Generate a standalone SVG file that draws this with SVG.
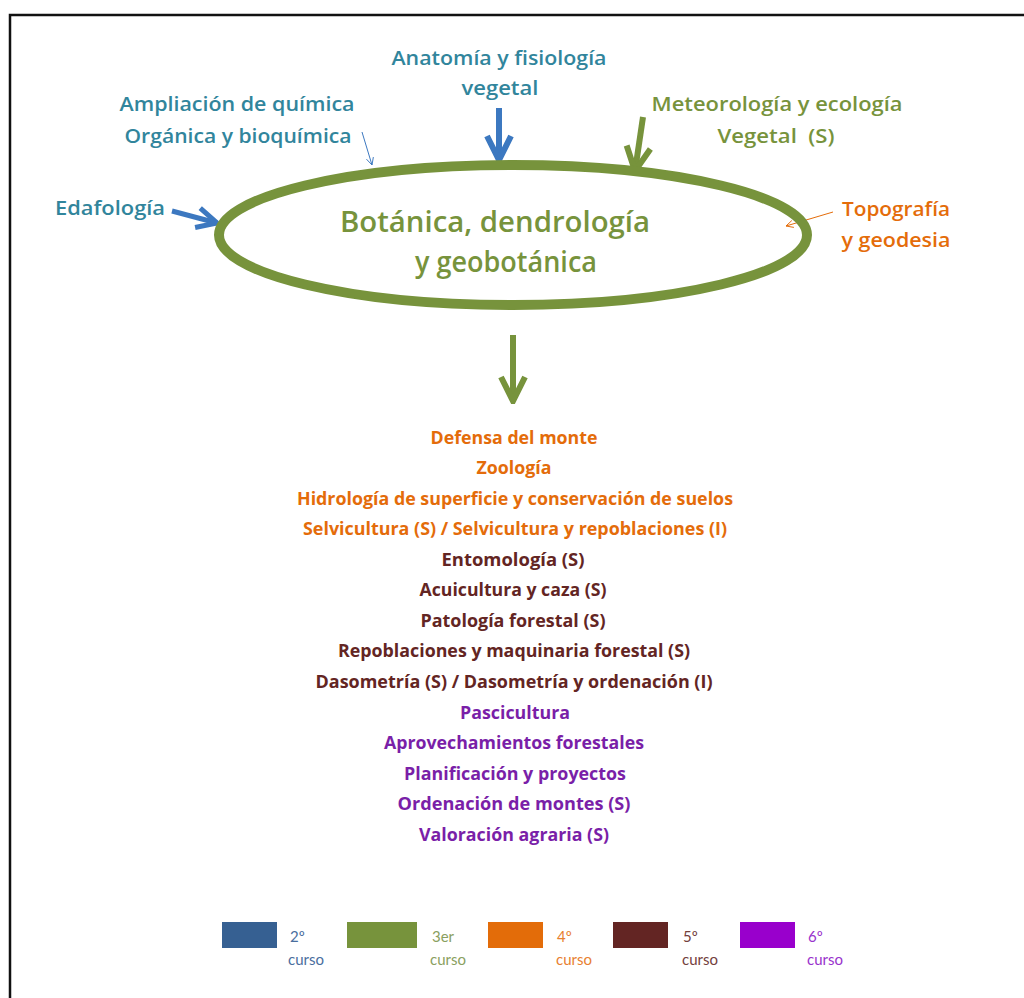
<svg xmlns="http://www.w3.org/2000/svg" width="1024" height="998" viewBox="0 0 1024 998">
<style>
text{font-family:"Open Sans","Liberation Sans",sans-serif;text-anchor:middle}
.t{font-size:20px;font-weight:600;fill:#31859C}
.g{font-size:20px;font-weight:600;fill:#77933C}
.o{font-size:20px;font-weight:600;fill:#E46C0A}
.main{font-size:28px;font-weight:600;fill:#77933C}
.li{font-size:17px;font-weight:bold}
.c4{fill:#E46C0A}.c5{fill:#632523}.c6{fill:#7A1FA8}
.lg{font-family:"Lato","Liberation Sans",sans-serif;font-size:15px;text-anchor:start}
</style>
<defs>
<marker id="hb" viewBox="0 0 10 10" refX="9" refY="5" markerWidth="5" markerHeight="5" orient="auto" markerUnits="strokeWidth"><path d="M1,1 L9,5 L1,9" fill="none" stroke="#3C78C0" stroke-width="2"/></marker>
<marker id="hg" viewBox="0 0 10 10" refX="9" refY="5" markerWidth="5" markerHeight="5" orient="auto" markerUnits="strokeWidth"><path d="M1,1 L9,5 L1,9" fill="none" stroke="#77933C" stroke-width="2"/></marker>
<marker id="tb" viewBox="0 0 10 10" refX="9" refY="5" markerWidth="9" markerHeight="9" orient="auto" markerUnits="strokeWidth"><path d="M1,1 L9,5 L1,9" fill="none" stroke="#3C78C0" stroke-width="1"/></marker>
<marker id="to" viewBox="0 0 10 10" refX="9" refY="5" markerWidth="9" markerHeight="9" orient="auto" markerUnits="strokeWidth"><path d="M1,1 L9,5 L1,9" fill="none" stroke="#E46C0A" stroke-width="1"/></marker>
</defs>
<rect width="1024" height="998" fill="#fff"/>
<path d="M10,998 V15 H1024" fill="none" stroke="#111" stroke-width="2.5"/>

<g id="connectors" fill="none">
<line x1="172" y1="211" x2="217" y2="223" stroke="#3C78C0" stroke-width="5" marker-end="url(#hb)"/>
<line x1="362" y1="132" x2="372" y2="165" stroke="#3C78C0" stroke-width="1" marker-end="url(#tb)"/>
<line x1="499" y1="108" x2="499" y2="160" stroke="#3C78C0" stroke-width="6" marker-end="url(#hb)"/>
<line x1="643" y1="117" x2="635" y2="171" stroke="#77933C" stroke-width="6" marker-end="url(#hg)"/>
<line x1="833" y1="212" x2="786" y2="226" stroke="#E46C0A" stroke-width="1" marker-end="url(#to)"/>
<line x1="513" y1="335" x2="513" y2="401" stroke="#77933C" stroke-width="6" marker-end="url(#hg)"/>
</g>

<g id="center">
<ellipse cx="513" cy="235" rx="294" ry="70" fill="none" stroke="#77933C" stroke-width="10"/>
<text class="main" x="495" y="232" textLength="310" lengthAdjust="spacingAndGlyphs">Botánica, dendrología</text>
<text class="main" x="506" y="272" textLength="182" lengthAdjust="spacingAndGlyphs">y geobotánica</text>
</g>

<g id="anatomia"><text class="t" x="499" y="65" textLength="215" lengthAdjust="spacingAndGlyphs">Anatomía y fisiología</text><text class="t" x="500" y="95" textLength="77" lengthAdjust="spacingAndGlyphs">vegetal</text></g>
<g id="ampliacion"><text class="t" x="237" y="111" textLength="235" lengthAdjust="spacingAndGlyphs">Ampliación de química</text><text class="t" x="238" y="143" textLength="227" lengthAdjust="spacingAndGlyphs">Orgánica y bioquímica</text></g>
<g id="meteorologia"><text class="g" x="777" y="111" textLength="251" lengthAdjust="spacingAndGlyphs">Meteorología y ecología</text><text class="g" x="776" y="143" textLength="117" lengthAdjust="spacingAndGlyphs" xml:space="preserve">Vegetal  (S)</text></g>
<g id="edafologia"><text class="t" x="110" y="215" textLength="110" lengthAdjust="spacingAndGlyphs">Edafología</text></g>
<g id="topografia"><text class="o" x="896" y="216" textLength="108" lengthAdjust="spacingAndGlyphs">Topografía</text><text class="o" x="896" y="247" textLength="109" lengthAdjust="spacingAndGlyphs">y geodesia</text></g>

<g id="list">
<text class="li c4" x="514" y="444" textLength="167" lengthAdjust="spacingAndGlyphs">Defensa del monte</text>
<text class="li c4" x="514" y="474" textLength="75" lengthAdjust="spacingAndGlyphs">Zoología</text>
<text class="li c4" x="515" y="505" textLength="436" lengthAdjust="spacingAndGlyphs">Hidrología de superficie y conservación de suelos</text>
<text class="li c4" x="515" y="535" textLength="424" lengthAdjust="spacingAndGlyphs">Selvicultura (S) / Selvicultura y repoblaciones (I)</text>
<text class="li c5" x="513" y="566" textLength="143" lengthAdjust="spacingAndGlyphs">Entomología (S)</text>
<text class="li c5" x="513" y="596" textLength="187" lengthAdjust="spacingAndGlyphs">Acuicultura y caza (S)</text>
<text class="li c5" x="513" y="627" textLength="185" lengthAdjust="spacingAndGlyphs">Patología forestal (S)</text>
<text class="li c5" x="514" y="657" textLength="352" lengthAdjust="spacingAndGlyphs">Repoblaciones y maquinaria forestal (S)</text>
<text class="li c5" x="514" y="688" textLength="397" lengthAdjust="spacingAndGlyphs">Dasometría (S) / Dasometría y ordenación (I)</text>
<text class="li c6" x="515" y="719" textLength="110" lengthAdjust="spacingAndGlyphs">Pascicultura</text>
<text class="li c6" x="514" y="749" textLength="260" lengthAdjust="spacingAndGlyphs">Aprovechamientos forestales</text>
<text class="li c6" x="515" y="780" textLength="222" lengthAdjust="spacingAndGlyphs">Planificación y proyectos</text>
<text class="li c6" x="514" y="810" textLength="233" lengthAdjust="spacingAndGlyphs">Ordenación de montes (S)</text>
<text class="li c6" x="514" y="841" textLength="190" lengthAdjust="spacingAndGlyphs">Valoración agraria (S)</text>
</g>

<g id="legend">
<rect x="222" y="922" width="55" height="26" fill="#366092"/>
<text class="lg" x="290" y="942" fill="#4A6E9E">2º</text><text class="lg" x="288" y="965" fill="#4A6E9E">curso</text>
<rect x="347" y="922" width="70" height="26" fill="#77933C"/>
<text class="lg" x="432" y="942" fill="#8AA060">3er</text><text class="lg" x="430" y="965" fill="#8AA060">curso</text>
<rect x="488" y="922" width="55" height="26" fill="#E36C09"/>
<text class="lg" x="557" y="942" fill="#E88030">4º</text><text class="lg" x="556" y="965" fill="#E88030">curso</text>
<rect x="613" y="922" width="55" height="26" fill="#632523"/>
<text class="lg" x="683" y="942" fill="#73403C">5º</text><text class="lg" x="682" y="965" fill="#73403C">curso</text>
<rect x="740" y="922" width="55" height="26" fill="#9900CC"/>
<text class="lg" x="808" y="942" fill="#9933CC">6º</text><text class="lg" x="807" y="965" fill="#9933CC">curso</text>
</g>
</svg>
